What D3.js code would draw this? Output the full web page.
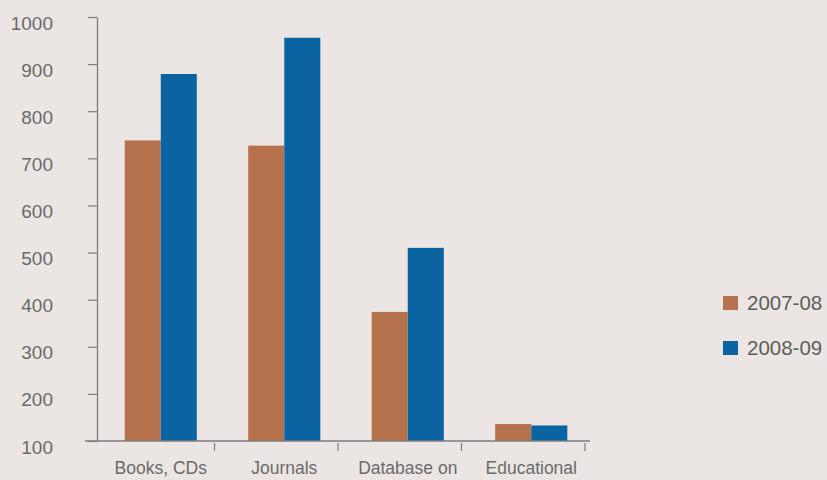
<!DOCTYPE html>
<html>
<head>
<meta charset="utf-8">
<script src="https://cdn.jsdelivr.net/npm/d3@7"></script>
<style>
  html, body { margin: 0; padding: 0; background: #ebe6e4; }
  svg { display: block; }
</style>
</head>
<body>
<svg id="chart" width="827" height="480"></svg>
<script>
// Spending by category, two financial years
const categories = ["Books, CDs", "Journals", "Database on", "Educational"];
const seriesNames = ["2007-08", "2008-09"];
const values2007 = [738, 727, 374, 136];
const values2008 = [879, 956, 510, 133];
const yTickValues = [100, 200, 300, 400, 500, 600, 700, 800, 900, 1000];

const seriesValues = [values2007, values2008];
const colors = ["#b6714d", "#0b64a1"];
const textColor = "#6a6a6a";
const axisColor = "#7c7c7c";

const svg = d3.select("#chart");
svg.append("rect").attr("width", 827).attr("height", 480).attr("fill", "#ebe6e4");

// Scales
const y = d3.scaleLinear().domain([100, 1000]).range([441, 17]);
const x0 = d3.scaleBand()
  .domain(categories)
  .range([99, 593])
  .paddingInner(0.416)
  .paddingOuter(0.208);
const x1 = d3.scaleBand().domain(seriesNames).range([0, x0.bandwidth()]);

// Bars
const rows = categories.map((c, i) => ({
  category: c,
  items: seriesNames.map((s, j) => ({ series: s, value: seriesValues[j][i], idx: j }))
}));

const groups = svg.append("g").selectAll("g")
  .data(rows).join("g")
  .attr("transform", d => `translate(${x0(d.category)},0)`);

groups.selectAll("rect")
  .data(d => d.items).join("rect")
  .attr("x", d => x1(d.series))
  .attr("width", x1.bandwidth())
  .attr("y", d => y(d.value))
  .attr("height", d => y(100) - y(d.value))
  .attr("fill", d => colors[d.idx]);

// Y axis
const yAxis = svg.append("g")
  .attr("transform", "translate(97,0)")
  .call(d3.axisLeft(y).tickValues(yTickValues).tickSize(9).tickSizeOuter(0).tickPadding(35).tickFormat(d3.format("d")));
yAxis.select(".domain").attr("stroke", axisColor).attr("stroke-width", 1.3);
yAxis.selectAll(".tick line").attr("stroke", axisColor).attr("stroke-width", 1.2);
yAxis.selectAll(".tick text")
  .attr("fill", textColor)
  .attr("dy", "0.9em")
  .attr("y", -5)
  .style("font-family", "'Liberation Sans', Arial, sans-serif")
  .style("font-size", "19px");

// X axis: baseline, category boundary ticks and labels
const step = x0.step();
const boundaries = categories.slice(1).map(c => x0(c) - step * x0.paddingInner() / 2 - 8)
  .concat([x0(categories[categories.length - 1]) + x0.bandwidth() + step * x0.paddingInner() / 2 - 8]);

const xAxisG = svg.append("g").attr("transform", `translate(0,${y(100)})`);
xAxisG.append("line")
  .attr("x1", 85).attr("x2", 590).attr("y1", 0).attr("y2", 0)
  .attr("stroke", axisColor).attr("stroke-width", 1.3);
xAxisG.selectAll("line.bt")
  .data(boundaries).join("line")
  .attr("class", "bt")
  .attr("x1", d => d).attr("x2", d => d)
  .attr("y1", 2).attr("y2", 10)
  .attr("stroke", axisColor).attr("stroke-width", 1.2);

const xLabels = svg.append("g")
  .attr("transform", `translate(0,${y(100)})`)
  .call(d3.axisBottom(x0).tickSize(0).tickPadding(21));
xLabels.select(".domain").remove();
xLabels.selectAll(".tick text")
  .attr("fill", textColor)
  .style("font-family", "'Liberation Sans', Arial, sans-serif")
  .style("font-size", "17.5px");

// Legend
const legend = svg.append("g").attr("transform", "translate(723,296)");
const li = legend.selectAll("g").data(seriesNames).join("g")
  .attr("transform", (d, i) => `translate(0,${i * 45})`);
li.append("rect")
  .attr("width", 15).attr("height", 14)
  .attr("fill", (d, i) => colors[i]);
li.append("text")
  .attr("x", 24).attr("y", 7).attr("dy", "0.36em")
  .attr("fill", "#5e5e5e")
  .style("font-family", "'Liberation Sans', Arial, sans-serif")
  .style("font-size", "20.5px")
  .text(d => d);
</script>
</body>
</html>
